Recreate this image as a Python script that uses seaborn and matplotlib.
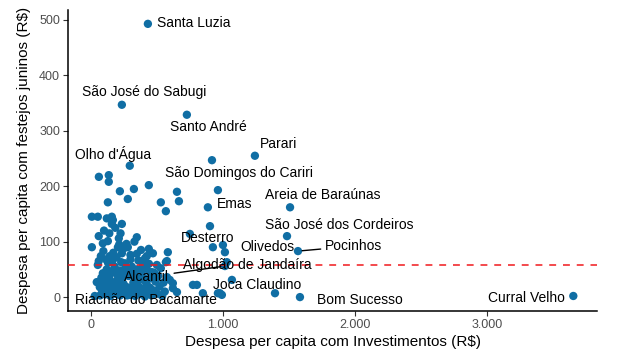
import pandas as pd
import seaborn as sns
import matplotlib.pyplot as plt

# municipios com rotulo
rotulos = ['Santa Luzia', 'São José do Sabugi', 'Santo André', 'Parari', "Olho d'Água",
           'São Domingos do Cariri', 'Emas', 'Areia de Baraúnas', 'São José dos Cordeiros',
           'Pocinhos', 'Olivedos', 'Desterro', 'Algodão de Jandaíra', 'Alcantil',
           'Joca Claudino', 'Bom Sucesso', 'Curral Velho', 'Riachão do Bacamarte']
rot_invest = [432, 235, 727, 1242, 295, 917, 886, 1508, 1485, 1568, 1000, 750, 1030, 1015,
              1068, 1583, 3652, 30]
rot_festejos = [493, 347, 329, 255, 237, 247, 162, 162, 110, 83, 94, 114, 63, 56,
                31, 0, 2, 2]

# demais municipios
outros_invest = [61, 136, 136, 326, 439, 220, 280, 129, 530, 568, 652, 667, 962, 8, 53, 121,
                 159, 167, 159, 235, 902, 924, 1015, 583, 568, 470, 462, 598, 1394, 992, 962,
                 773, 803, 848, 621, 652, 977,
                 8, 91, 129, 212, 348, 205, 280, 439, 235, 76, 144, 348, 424, 576, 53, 258,
                 394, 500, 91, 182, 333, 447, 576, 45, 144, 621, 68,
                 70, 85, 98, 110, 122, 135, 148, 160, 172, 185, 198, 210, 222, 235, 248, 260,
                 272, 285, 298, 310, 322, 335, 348, 360, 372, 385, 398, 410, 422, 435, 448, 460,
                 475, 490, 505, 520, 540, 560, 80, 100, 120, 140, 160, 180, 200, 220, 240, 260,
                 290, 310, 330, 350, 370, 400, 420, 60, 75, 90, 105, 130, 150, 165, 190, 215,
                 230, 255, 275, 300, 320, 345, 365, 390, 415, 440, 455, 480, 510, 530, 550, 95,
                 115, 170, 195, 215, 250, 300, 330, 360, 380, 410, 60, 100, 140, 185, 225, 270]
outros_festejos = [217, 220, 208, 195, 202, 191, 177, 171, 171, 155, 190, 173, 193, 145, 145, 142,
                   145, 139, 132, 132, 128, 90, 81, 81, 63, 79, 45, 31, 7, 4, 7,
                   22, 22, 7, 16, 9, 7,
                   90, 97, 101, 106, 108, 90, 90, 87, 79, 74, 74, 78, 74, 65, 58, 61,
                   58, 58, 43, 45, 47, 45, 36, 27, 31, 25, 18,
                   3, 12, 20, 5, 14, 28, 2, 10, 22, 6, 16, 33, 3, 11, 24, 7,
                   18, 38, 4, 13, 26, 2, 9, 20, 32, 5, 15, 1, 24, 8, 17, 3,
                   12, 28, 6, 19, 2, 10, 35, 42, 50, 38, 47, 55, 40, 48, 36, 52,
                   44, 55, 38, 50, 42, 35, 55, 65, 24, 8, 30, 62, 18, 66, 28, 20,
                   63, 42, 3, 68, 20, 32, 12, 48, 28, 60, 34, 44, 38, 52, 26, 83,
                   68, 80, 72, 95, 88, 76, 100, 66, 85, 70, 110, 120, 115, 125, 115, 96]

media_festejos = 57

xticks = [0, 1000, 2000, 3000]
xtick_labels = ['0', '1.000', '2.000', '3.000']
yticks = [0, 100, 200, 300, 400, 500]

# deslocamento dos rotulos em pixels (dx, dy, alinhamento, com linha)
posicao_rotulos = {
    'Santa Luzia': (9, 1, 'left', False),
    'São José do Sabugi': (22, 13, 'center', False),
    'Santo André': (22, -12, 'center', False),
    'Parari': (24, 12, 'center', False),
    "Olho d'Água": (-17, 12, 'center', False),
    'São Domingos do Cariri': (27, -13, 'center', False),
    'Emas': (27, 3, 'center', False),
    'Areia de Baraúnas': (33, 12, 'center', False),
    'São José dos Cordeiros': (52, 11, 'center', False),
    'Pocinhos': (56, 5, 'center', True),
    'Olivedos': (45, -2, 'center', False),
    'Desterro': (18, -4, 'center', False),
    'Algodão de Jandaíra': (20, -3, 'center', False),
    'Alcantil': (-78, -11, 'center', True),
    'Joca Claudino': (25, -5, 'center', False),
    'Bom Sucesso': (60, -3, 'center', False),
    'Curral Velho': (-47, -2, 'center', False),
    'Riachão do Bacamarte': (51, -4, 'center', False),
}

df = pd.DataFrame({
    'municipio': rotulos + [''] * len(outros_invest),
    'invest': rot_invest + outros_invest,
    'festejos': rot_festejos + outros_festejos,
})

sns.set_theme(style='ticks')
plt.rcParams['font.family'] = ['Liberation Sans', 'DejaVu Sans']

fig, ax = plt.subplots(figsize=(6.28, 3.57), dpi=100)
fig.subplots_adjust(left=0.108, right=0.951, bottom=0.129, top=0.972)

sns.scatterplot(data=df, x='invest', y='festejos', color='#106EA4', s=36,
                edgecolor='none', ax=ax, zorder=2)
ax.axhline(media_festejos, color='#F0191C', linestyle=(0, (4.5, 4.5)), linewidth=1.1, zorder=3)

for nome, x, y in zip(rotulos, rot_invest, rot_festejos):
    dx, dy, ha, linha = posicao_rotulos[nome]
    props = dict(arrowstyle='-', color='black', lw=1, shrinkA=1, shrinkB=3) if linha else None
    ax.annotate(nome, xy=(x, y), xytext=(dx, dy), textcoords='offset pixels',
                ha=ha, va='center', fontsize=10, color='black', zorder=4,
                arrowprops=props)

ax.set_xlim(-174, 3833)
ax.set_ylim(-25, 518)
ax.set_xticks(xticks)
ax.set_xticklabels(xtick_labels)
ax.set_yticks(yticks)
ax.tick_params(axis='both', labelsize=9, labelcolor='#4D4D4D', color='#333333',
               length=3.5, width=0.8, pad=2)
for s in ['left', 'bottom']:
    ax.spines[s].set_linewidth(1.1)
    ax.spines[s].set_color('black')
sns.despine(ax=ax)

ax.set_xlabel('Despesa per capita com Investimentos (R$)', fontsize=11, color='black', labelpad=3)
ax.set_ylabel('Despesa per capita com festejos juninos (R$)', fontsize=11, color='black', labelpad=6)

plt.savefig('out.png', dpi=100)
